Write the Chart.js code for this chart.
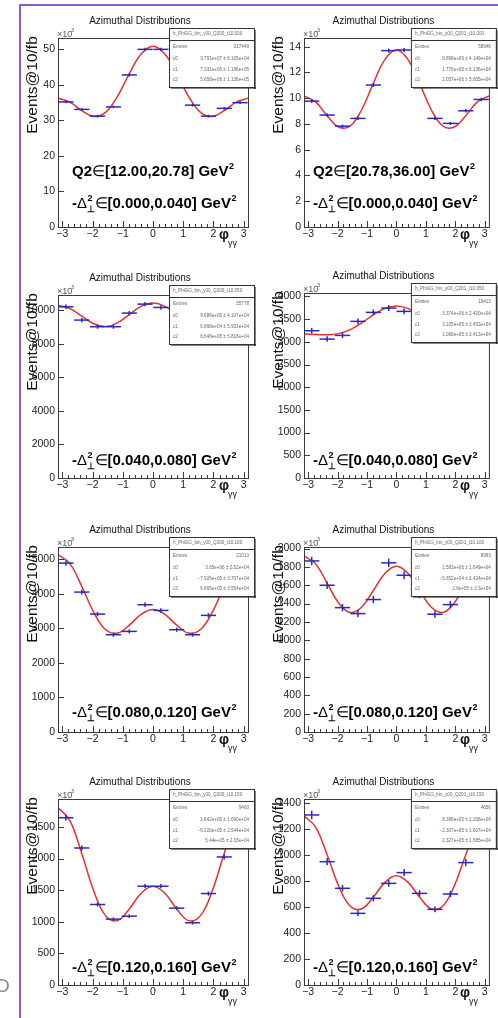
<!DOCTYPE html>
<html>
<head>
<meta charset="utf-8">
<title>Azimuthal Distributions</title>
<script src="https://cdn.jsdelivr.net/npm/chart.js@4.4.0/dist/chart.umd.min.js"></script>
<style>
  html, body { margin: 0; padding: 0; background: #fff; }
  #page { position: relative; width: 498px; height: 1018px; overflow: hidden; }
  #page canvas { position: absolute; left: 0; top: 0; }
  .edge-v { position: absolute; left: 19px; top: 4px; width: 2px; height: 1014px; background: #8e5bd0; }
  .edge-h { position: absolute; left: 19px; top: 4px; width: 479px; height: 2px; background: #8e5bd0; }
  .stray { position: absolute; left: -4px; top: 975px; font: 19px 'Liberation Sans', Arial, sans-serif; color: #8a8a8a; }
</style>
</head>
<body>
<div id="page"></div>
<script>
const binPhi = [-2.880, -2.356, -1.833, -1.309, -0.785, -0.262, 0.262, 0.785, 1.309, 1.833, 2.356, 2.880];
const fitPhi = [-3.1416, -2.7489, -2.3562, -1.9635, -1.5708, -1.1781, -0.7854, -0.3927, 0,
                0.3927, 0.7854, 1.1781, 1.5708, 1.9635, 2.3562, 2.7489, 3.1416];
const xTicks = [-3, -2, -1, 0, 1, 2, 3];

// Q2 [12.00,20.78], -t [0.000,0.040]
const counts1 = [35.2, 33.1, 31.2, 33.8, 42.8, 50.0, 50.0, 43.0, 34.3, 31.2, 33.4, 35.0];
const errors1 = [0.40, 0.39, 0.38, 0.39, 0.43, 0.46, 0.46, 0.43, 0.39, 0.38, 0.39, 0.40];
const fit1 = [36.24, 35.14, 32.73, 31.11, 32.25, 36.72, 43.09, 48.68, 50.90, 48.68, 43.09, 36.72, 32.25, 31.11, 32.73, 35.14, 36.24];
const yTicks1 = [0, 10, 20, 30, 40, 50];

// Q2 [20.78,36.00], -t [0.000,0.040]
const counts2 = [9.77, 8.69, 7.83, 8.43, 11.02, 13.69, 13.74, 11.10, 8.43, 8.04, 9.02, 9.90];
const errors2 = [0.14, 0.13, 0.12, 0.13, 0.15, 0.16, 0.16, 0.15, 0.13, 0.12, 0.13, 0.14];
const fit2 = [10.18, 9.71, 8.64, 7.76, 7.84, 9.12, 11.15, 12.99, 13.73, 12.99, 11.15, 9.12, 7.84, 7.76, 8.64, 9.71, 10.18];
const yTicks2 = [0, 2, 4, 6, 8, 10, 12, 14];

// Q2 [12.00,20.78], -t [0.040,0.080]
const counts3 = [10198, 9406, 9010, 9010, 9822, 10356, 10158, 9800, 9300, 9150, 9600, 10150];
const errors3 = [130, 125, 120, 120, 128, 132, 130, 128, 125, 122, 126, 130];
const fit3 = [10282, 10093, 9637, 9190, 9021, 9242, 9735, 10220, 10420, 10220, 9735, 9242, 9021, 9190, 9637, 10093, 10282];
const yTicks3 = [0, 2000, 4000, 6000, 8000, 10000];

// Q2 [20.78,36.00], -t [0.040,0.080]
const counts4 = [3244, 3060, 3141, 3450, 3648, 3743, 3670, 3680, 3400, 3250, 3200, 3180];
const errors4 = [62, 60, 61, 63, 65, 66, 65, 65, 63, 61, 61, 61];
const fit4 = [3170, 3163, 3154, 3180, 3267, 3417, 3594, 3736, 3791, 3736, 3594, 3417, 3267, 3180, 3154, 3163, 3170];
const yTicks4 = [0, 500, 1000, 1500, 2000, 2500, 3000, 3500, 4000];

// Q2 [12.00,20.78], -t [0.080,0.120]
const counts5 = [4884, 4046, 3410, 2813, 2909, 3680, 3516, 2958, 2813, 3372, 4350, 4950];
const errors5 = [75, 68, 63, 58, 58, 65, 64, 59, 58, 63, 70, 75];
const fit5 = [5129, 4868, 4211, 3468, 2964, 2861, 3090, 3403, 3544, 3403, 3090, 2861, 2964, 3468, 4211, 4868, 5129];
const yTicks5 = [0, 1000, 2000, 3000, 4000, 5000];

// Q2 [20.78,36.00], -t [0.080,0.120]
const counts6 = [1865, 1600, 1356, 1291, 1444, 1844, 1709, 1500, 1284, 1389, 1640, 1880];
const errors6 = [46, 42, 40, 39, 41, 46, 44, 42, 39, 40, 43, 46];
const fit6 = [1920, 1833, 1623, 1407, 1303, 1363, 1543, 1729, 1807, 1729, 1543, 1363, 1303, 1407, 1623, 1833, 1920];
const yTicks6 = [0, 200, 400, 600, 800, 1000, 1200, 1400, 1600, 1800, 2000];

// Q2 [12.00,20.78], -t [0.120,0.160]
const counts7 = [2647, 2168, 1274, 1042, 1089, 1563, 1563, 1216, 984, 1447, 2026, 2700];
const errors7 = [45, 40, 31, 28, 29, 34, 34, 30, 27, 33, 39, 45];
const fit7 = [2808, 2601, 2082, 1495, 1098, 1019, 1202, 1452, 1564, 1452, 1202, 1019, 1098, 1495, 2082, 2601, 2808];
const yTicks7 = [0, 500, 1000, 1500, 2000, 2500];

// Q2 [20.78,36.00], -t [0.120,0.160]
const counts8 = [1310, 950, 745, 552, 668, 783, 866, 706, 583, 701, 943, 1290];
const errors8 = [33, 28, 25, 22, 24, 26, 27, 25, 22, 24, 28, 33];
const fit8 = [1303, 1217, 1003, 763, 607, 587, 677, 791, 842, 791, 677, 587, 607, 763, 1003, 1217, 1303];
const yTicks8 = [0, 200, 400, 600, 800, 1000, 1200, 1400];

const yMaxes = [53.2, 14.67, 10900, 4075, 5350, 2017, 2943, 1433];

const q2Ranges = ['[12.00,20.78]', '[20.78,36.00]'];
const tRanges = ['[0.000,0.040]', '[0.040,0.080]', '[0.080,0.120]', '[0.120,0.160]'];

// fit box contents
const statNames = ['h_PhiGG_bin_y00_Q200_t10.000', 'h_PhiGG_bin_y00_Q201_t10.000',
                   'h_PhiGG_bin_y00_Q200_t10.050', 'h_PhiGG_bin_y00_Q201_t10.050',
                   'h_PhiGG_bin_y00_Q200_t10.100', 'h_PhiGG_bin_y00_Q201_t10.100',
                   'h_PhiGG_bin_y00_Q200_t10.150', 'h_PhiGG_bin_y00_Q201_t10.150'];
const statEntries = ['217448', '58946', '55778', '19413', '21013', '8993', '9460', '4656'];
const statC0 = ['3.791e+07 \u00b1 6.105e+04', '9.898e+06 \u00b1 4.149e+04', '9.686e+06 \u00b1 4.107e+04', '3.374e+06 \u00b1 2.420e+04',
                '3.65e+06 \u00b1 2.52e+04', '1.583e+06 \u00b1 1.649e+04', '1.642e+06 \u00b1 1.690e+04', '8.396e+05 \u00b1 1.208e+04'];
const statC1 = ['7.331e+06 \u00b1 1.186e+05', '1.776e+06 \u00b1 6.136e+04', '6.868e+04 \u00b1 5.903e+04', '3.105e+05 \u00b1 3.453e+04',
                '\u22127.926e+05 \u00b1 3.707e+04', '\u22125.652e+04 \u00b1 2.424e+04', '\u22126.220e+05 \u00b1 2.544e+04', '\u22122.307e+05 \u00b1 1.607e+04'];
const statC2 = ['5.656e+06 \u00b1 1.136e+05', '2.057e+06 \u00b1 5.605e+04', '6.648e+05 \u00b1 5.818e+04', '1.068e+05 \u00b1 3.413e+04',
                '6.865e+05 \u00b1 3.554e+04', '2.8e+05 \u00b1 2.3e+04', '5.44e+05 \u00b1 2.33e+04', '2.327e+05 \u00b1 1.685e+04'];

const allCounts = [counts1, counts2, counts3, counts4, counts5, counts6, counts7, counts8];
const allErrors = [errors1, errors2, errors3, errors4, errors5, errors6, errors7, errors8];
const allFits = [fit1, fit2, fit3, fit4, fit5, fit6, fit7, fit8];
const allYTicks = [yTicks1, yTicks2, yTicks3, yTicks4, yTicks5, yTicks6, yTicks7, yTicks8];

// frame of every pad on the page
const frames = [
  [58, 38, 248, 227], [304, 38, 493, 227],
  [58, 295, 248, 478], [304, 293, 493, 478],
  [58, 547, 248, 732], [304, 547, 493, 732],
  [58, 799, 248, 985], [304, 799, 493, 985]
];
const deltaLift = [19, 13, 15, 13];

const FONT = "'Liberation Sans', Arial, sans-serif";
const RED = '#e4312e';
const BLUE = '#2a2ab8';
const W = 498, H = 1018;
const YAXIS_W = 44, XAXIS_H = 14;

const page = document.getElementById('page');

function drawDelta(ctx, x, y, range) {
  ctx.textAlign = 'left';
  ctx.textBaseline = 'alphabetic';
  ctx.font = 'bold 15px ' + FONT;
  ctx.fillText('-', x, y);
  let cx = x + ctx.measureText('-').width;
  ctx.font = '15px ' + FONT;
  ctx.fillText('\u0394', cx, y);
  cx += ctx.measureText('\u0394').width + 0.5;
  ctx.font = 'bold 9px ' + FONT;
  ctx.fillText('2', cx, y - 7);
  ctx.fillText('\u22a5', cx - 0.5, y + 4);
  cx += 7;
  ctx.font = '15px ' + FONT;
  ctx.fillText('\u2208', cx, y);
  cx += ctx.measureText('\u2208').width;
  ctx.font = 'bold 15px ' + FONT;
  const s = range + ' GeV';
  ctx.fillText(s, cx, y);
  cx += ctx.measureText(s).width + 0.5;
  ctx.font = 'bold 9px ' + FONT;
  ctx.fillText('2', cx, y - 7);
}

function drawQ2(ctx, x, y, range) {
  ctx.textAlign = 'left';
  ctx.textBaseline = 'alphabetic';
  ctx.font = 'bold 15px ' + FONT;
  ctx.fillText('Q2', x, y);
  let cx = x + ctx.measureText('Q2').width;
  ctx.font = '15px ' + FONT;
  ctx.fillText('\u2208', cx, y);
  cx += ctx.measureText('\u2208').width;
  ctx.font = 'bold 15px ' + FONT;
  const s = range + ' GeV';
  ctx.fillText(s, cx, y);
  cx += ctx.measureText(s).width + 0.5;
  ctx.font = 'bold 9px ' + FONT;
  ctx.fillText('2', cx, y - 7);
}

function padDecor(i) {
  const col = i % 2, row = Math.floor(i / 2);
  return {
    id: 'padDecor' + i,
    afterDatasetsDraw(chart) {
      const ctx = chart.ctx, xs = chart.scales.x, ys = chart.scales.y;
      ctx.save();
      // vertical error bars
      ctx.strokeStyle = BLUE;
      ctx.lineWidth = 1.5;
      allCounts[i].forEach((v, k) => {
        const px = xs.getPixelForValue(binPhi[k]);
        ctx.beginPath();
        ctx.moveTo(px, ys.getPixelForValue(v - allErrors[i][k]));
        ctx.lineTo(px, ys.getPixelForValue(v + allErrors[i][k]));
        ctx.stroke();
      });
      ctx.restore();
    },
    afterDraw(chart) {
      const ctx = chart.ctx, xs = chart.scales.x, ys = chart.scales.y;
      const a = chart.chartArea;
      ctx.save();
      // frame
      ctx.strokeStyle = '#3a3a3a';
      ctx.lineWidth = 1;
      ctx.strokeRect(a.left + 0.5, a.top + 0.5, a.right - a.left, a.bottom - a.top);
      // inner tick marks
      ctx.beginPath();
      for (let t = -32; t <= 32; t += 2) {
        const v = t / 10;
        if (v < -Math.PI || v > Math.PI) continue;
        const px = Math.round(xs.getPixelForValue(v)) + 0.5;
        const len = (t % 10 === 0) ? 6 : 3;
        ctx.moveTo(px, a.bottom);
        ctx.lineTo(px, a.bottom - len);
      }
      allYTicks[i].forEach(v => {
        const py = Math.round(ys.getPixelForValue(v)) + 0.5;
        ctx.moveTo(a.left, py);
        ctx.lineTo(a.left + 6, py);
      });
      ctx.stroke();

      // fit box
      const bx = a.right - 79 + col, by = a.top - 10, bw = 85, bh = 59;
      ctx.fillStyle = '#fff';
      ctx.fillRect(bx, by, bw, bh);
      ctx.fillStyle = '#333';
      ctx.fillRect(bx + 2, by + bh, bw, 1.6);
      ctx.fillRect(bx + bw, by + 2, 1.6, bh);
      ctx.strokeStyle = '#333';
      ctx.strokeRect(bx + 0.5, by + 0.5, bw, bh);
      ctx.beginPath();
      ctx.moveTo(bx, by + 12.5);
      ctx.lineTo(bx + bw, by + 12.5);
      ctx.stroke();
      ctx.fillStyle = '#666';
      ctx.font = '4.6px ' + FONT;
      ctx.textBaseline = 'middle';
      ctx.textAlign = 'left';
      ctx.fillText(statNames[i], bx + 4, by + 6);
      ctx.fillText('Entries', bx + 4, by + 19);
      ctx.fillText('c0', bx + 4, by + 31);
      ctx.fillText('c1', bx + 4, by + 41.5);
      ctx.fillText('c2', bx + 4, by + 52);
      ctx.textAlign = 'right';
      const rx = bx + 80;
      ctx.fillText(statEntries[i], rx, by + 19);
      ctx.fillText(statC0[i], rx, by + 31);
      ctx.fillText(statC1[i], rx, by + 41.5);
      ctx.fillText(statC2[i], rx, by + 52);

      // pad title
      ctx.fillStyle = '#111';
      ctx.font = '10px ' + FONT;
      ctx.textAlign = 'center';
      ctx.textBaseline = 'middle';
      ctx.fillText('Azimuthal Distributions', (a.left + a.right) / 2 - 13, a.top - 17);

      // x10^3 multiplier
      ctx.fillStyle = '#555';
      ctx.textAlign = 'left';
      ctx.textBaseline = 'alphabetic';
      ctx.font = '9px ' + FONT;
      ctx.fillText('\u00d710', a.left - 1, a.top - 1.5);
      ctx.font = '5.5px ' + FONT;
      ctx.fillText('3', a.left + 13, a.top - 6);

      // y axis title
      ctx.fillStyle = '#111';
      ctx.save();
      ctx.translate(a.left - 25, a.top + 47);
      ctx.rotate(-Math.PI / 2);
      ctx.font = '15.5px ' + FONT;
      ctx.textAlign = 'center';
      ctx.textBaseline = 'middle';
      ctx.fillText('Events@10/fb', 0, 0);
      ctx.restore();

      // x axis title
      ctx.fillStyle = '#111';
      ctx.textAlign = 'left';
      ctx.textBaseline = 'alphabetic';
      ctx.font = 'bold 14px ' + FONT;
      ctx.fillText('\u03c6', a.right - 29, a.bottom + 12);
      ctx.font = '9px ' + FONT;
      ctx.fillText('\u03b3\u03b3', a.right - 20, a.bottom + 19);

      // bin labels
      ctx.fillStyle = '#000';
      const tx = col === 0 ? a.left + 14 : a.left + 9;
      if (row === 0) drawQ2(ctx, tx, a.bottom - 51, q2Ranges[col]);
      drawDelta(ctx, tx, a.bottom - deltaLift[row], tRanges[row]);
      ctx.restore();
    }
  };
}

frames.forEach((f, i) => {
  const canvas = document.createElement('canvas');
  canvas.width = W;
  canvas.height = H;
  canvas.style.width = W + 'px';
  canvas.style.height = H + 'px';
  page.appendChild(canvas);

  new Chart(canvas, {
    type: 'scatter',
    data: {
      datasets: [{
        type: 'line',
        data: allFits[i].map((y, k) => ({ x: fitPhi[k], y: y })),
        borderColor: RED,
        borderWidth: 1.5,
        pointRadius: 0,
        tension: 0.4,
        fill: false,
        order: 2
      }, {
        data: allCounts[i].map((y, k) => ({ x: binPhi[k], y: y })),
        pointStyle: 'line',
        pointRadius: 7.6,
        pointBorderWidth: 1.5,
        pointBorderColor: BLUE,
        pointBackgroundColor: BLUE,
        showLine: false,
        order: 1
      }]
    },
    options: {
      responsive: false,
      animation: false,
      events: [],
      layout: { padding: { left: f[0] - YAXIS_W, top: f[1], right: W - f[2], bottom: H - f[3] - XAXIS_H } },
      plugins: { legend: { display: false }, tooltip: { enabled: false } },
      scales: {
        x: {
          type: 'linear',
          min: -Math.PI,
          max: Math.PI,
          grid: { display: false, drawTicks: false },
          border: { display: false },
          afterFit: s => { s.height = XAXIS_H; },
          afterBuildTicks: s => { s.ticks = xTicks.map(v => ({ value: v })); },
          ticks: {
            padding: 1,
            maxRotation: 0,
            autoSkip: false,
            color: '#222',
            font: { family: FONT, size: 10.5 },
            callback: v => v < 0 ? '\u2212' + (-v) : String(v)
          }
        },
        y: {
          type: 'linear',
          min: 0,
          max: yMaxes[i],
          grid: { display: false, drawTicks: false },
          border: { display: false },
          afterFit: s => { s.width = YAXIS_W; },
          afterBuildTicks: s => { s.ticks = allYTicks[i].map(v => ({ value: v })); },
          ticks: {
            padding: 3,
            autoSkip: false,
            color: '#222',
            font: { family: FONT, size: 10.5 },
            callback: v => String(v)
          }
        }
      }
    },
    plugins: [padDecor(i)]
  });
});

// purple page edges and the stray letter at the bottom
['edge-v', 'edge-h', 'stray'].forEach(c => {
  const d = document.createElement('div');
  d.className = c;
  if (c === 'stray') d.textContent = 'D';
  page.appendChild(d);
});
</script>
</body>
</html>
